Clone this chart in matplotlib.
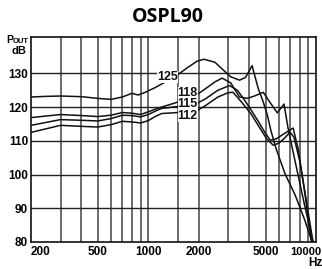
import matplotlib
matplotlib.use('Agg')
import matplotlib.pyplot as plt
from matplotlib.ticker import NullLocator

# OSPL90 curves (input level in dB SPL)
freq_125 = [200, 250, 300, 400, 500, 600, 700, 800, 870, 950, 1100, 1300, 1500, 1700, 1950, 2150, 2500, 2800,
            3100, 3500, 3800, 4160, 4520, 4850, 5130, 5400, 5800, 6540, 7500, 8500, 9300, 9500]
spl_125 = [123.0, 123.2, 123.3, 123.1, 122.6, 122.3, 123.0, 124.1, 123.6, 124.3, 125.8, 127.8, 129.6, 131.6,
           133.6, 134.2, 133.3, 131.0, 129.0, 128.0, 128.8, 132.3, 125.6, 121.5, 117.6, 112.8, 107.5, 100.2,
           94.0, 87.0, 81.2, 80.0]

freq_118 = [200, 300, 400, 500, 600, 700, 800, 900, 1000, 1100, 1200, 1500, 1900, 2200, 2500, 2760, 3100,
            3500, 3900, 4300, 4850, 5300, 5880, 6450, 6800, 7500, 8500, 9600]
spl_118 = [116.9, 117.8, 117.5, 117.2, 117.6, 118.4, 118.2, 117.8, 118.6, 119.4, 120.0, 121.5, 123.3, 125.5,
           127.5, 128.6, 127.2, 123.0, 122.6, 123.3, 124.4, 121.5, 118.3, 120.9, 114.0, 104.0, 91.5, 80.0]

freq_115 = [200, 300, 400, 500, 600, 700, 800, 900, 1000, 1100, 1200, 1500, 1900, 2200, 2600, 3050, 3400,
            3700, 4000, 4500, 5000, 5340, 5800, 6400, 7000, 7300, 7800, 8500, 9400]
spl_115 = [114.6, 116.3, 116.1, 115.9, 116.6, 117.6, 117.5, 117.1, 117.8, 118.8, 119.6, 120.2, 120.8, 122.5,
           125.0, 126.4, 125.0, 122.5, 120.0, 116.0, 112.2, 110.2, 110.6, 112.0, 113.2, 113.8, 108.0, 96.0, 80.0]

freq_112 = [200, 300, 400, 500, 600, 700, 800, 900, 1000, 1100, 1200, 1500, 1900, 2200, 2600, 3000, 3200,
            3600, 4100, 4600, 5100, 5560, 6000, 6500, 7000, 7400, 8000, 8700, 9600]
spl_112 = [112.5, 114.6, 114.3, 114.1, 114.8, 115.8, 115.6, 115.3, 116.0, 117.2, 118.1, 118.4, 118.6, 120.5,
           123.0, 124.3, 124.4, 121.5, 118.0, 114.0, 110.5, 108.7, 109.3, 110.8, 112.6, 111.0, 104.0, 93.0, 80.0]

# curve labels: the 125 one on its own, the other three stacked in one block
label_top = '125'
label_top_pos = (1300, 128.9)
label_stack = ['118', '115', '112']
label_stack_pos = (1720, 120.9)

x_ticks = [200, 500, 1000, 2000, 5000]
x_tick_text = ['200', '500', '1000', '2000', '5000']
x_grid = [300, 400, 500, 600, 700, 800, 900, 1000, 1500, 2000, 3000, 4000, 5000, 6000, 7000, 8000, 9000]
y_ticks = [80, 90, 100, 110, 120, 130]

narrow = ['Liberation Sans', 'DejaVu Sans']

fig = plt.figure(figsize=(3.22, 2.69), dpi=100)
ax = fig.add_axes([31 / 322, 27 / 269, 285 / 322, 205 / 269])
ax.set_xscale('log')
ax.set_xlim(200, 10000)
ax.set_ylim(80, 140.8)

for f in x_grid:
    ax.axvline(f, color='#444444', lw=1.1, zorder=1)
for v in y_ticks[1:]:
    ax.axhline(v, color='#222222', lw=1.0, zorder=1)

for fr, sp in [(freq_125, spl_125), (freq_118, spl_118), (freq_115, spl_115), (freq_112, spl_112)]:
    ax.plot(fr, sp, color='#111111', lw=1.1, zorder=2)

ax.text(label_top_pos[0], label_top_pos[1], label_top, ha='center', va='center', fontsize=9,
        fontweight='bold', family=narrow, color='#111111', zorder=3,
        bbox=dict(boxstyle='square,pad=0.0', fc='white', ec='none'))
ax.text(label_stack_pos[0], label_stack_pos[1], '\n'.join(label_stack), ha='center', va='center',
        fontsize=9, fontweight='bold', family=narrow, color='#111111', zorder=3, linespacing=0.95,
        bbox=dict(boxstyle='square,pad=0.0', fc='white', ec='none'))

ax.xaxis.set_major_locator(NullLocator())
ax.xaxis.set_minor_locator(NullLocator())
ax.set_yticks(y_ticks)
ax.set_yticklabels([str(v) for v in y_ticks], fontsize=8.5, fontweight='bold', family=narrow)
ax.tick_params(axis='y', length=0, pad=2)
for s in ax.spines.values():
    s.set_linewidth(1.2)
    s.set_color('#111111')

# x tick labels placed by hand, slightly right of their gridlines like the reference
for f, t in zip(x_ticks, x_tick_text):
    ha = 'left' if f == 200 else 'center'
    ax.text(f, 76.9, t, ha=ha, va='center', fontsize=8.5, fontweight='bold', family=narrow, clip_on=False)
fig.text(321.5 / 322, 1 - 252 / 269, '10000', ha='right', va='center', fontsize=8, fontweight='bold',
         family=narrow)
fig.text(315 / 322, 1 - 263 / 269, 'Hz', ha='center', va='center', fontsize=8.5, fontweight='bold',
         family=narrow)

fig.text(168 / 322, 1 - 17 / 269, 'OSPL90', ha='center', va='center', fontsize=14, fontweight='bold',
         family=['Open Sans', 'DejaVu Sans'])
fig.text(6 / 322, 1 - 43 / 269, 'P', ha='left', va='baseline', fontsize=7.5, fontweight='bold', family=narrow)
fig.text(12.5 / 322, 1 - 43 / 269, 'OUT', ha='left', va='baseline', fontsize=5.5, fontweight='bold',
         family=narrow)
fig.text(26.5 / 322, 1 - 51 / 269, 'dB', ha='right', va='center', fontsize=8, fontweight='bold', family=narrow)

fig.savefig('out.png', dpi=100)
